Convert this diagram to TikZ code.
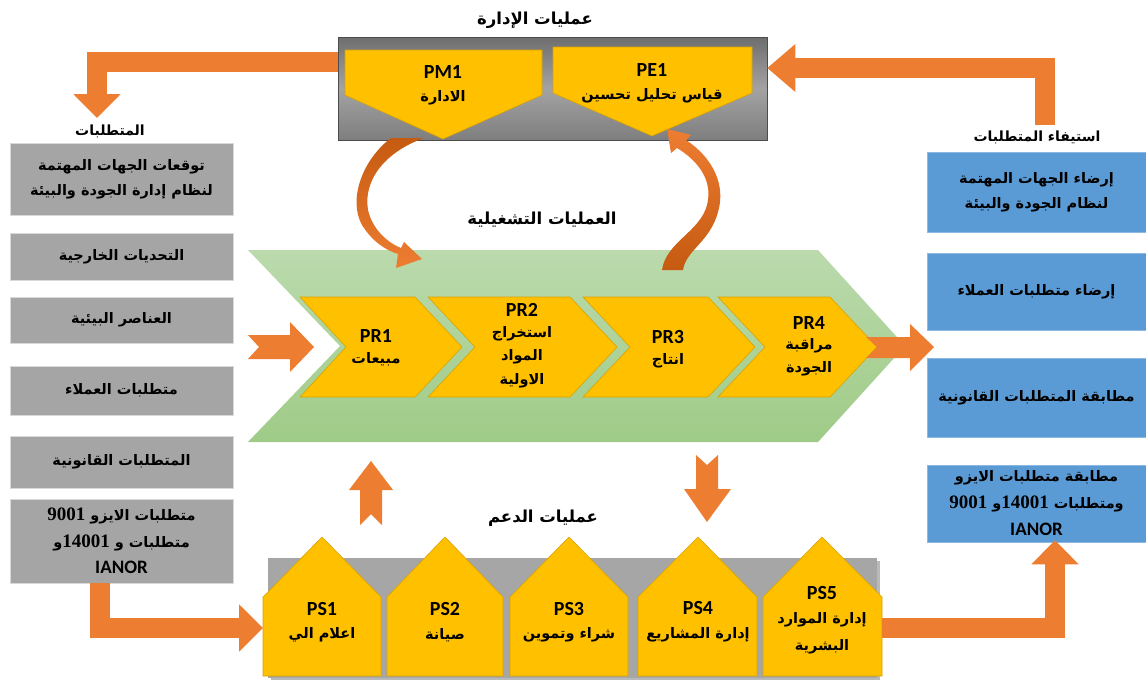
\documentclass[tikz,border=0pt]{standalone}
\usepackage{fontspec}
\setmainfont{Carlito}
\newfontfamily\arfont[Script=Arabic]{DejaVu Sans}
\newfontfamily\numfont{Liberation Serif}
\TeXXeTstate=1
\usetikzlibrary{arrows.meta}
\definecolor{orng}{HTML}{ED7D31}
\definecolor{dorng}{HTML}{C55A11}
\definecolor{ylw}{HTML}{FFC000}
\definecolor{ylwb}{HTML}{D9A300}
\definecolor{gbox}{HTML}{A5A5A5}
\definecolor{bbox}{HTML}{5B9BD5}
\definecolor{grn1}{HTML}{BBDAAD}
\definecolor{grn2}{HTML}{9FCB87}
\definecolor{tbtop}{HTML}{6E6E6E}
\definecolor{tbmid}{HTML}{A3A3A3}
\definecolor{tbbot}{HTML}{7E7E7E}
\definecolor{band}{HTML}{A6A6A6}
\newcommand\AR[1]{\beginR #1\endR}
\newcommand\NUM[1]{{\numfont\bfseries\fontsize{19}{19}\selectfont #1}}
\newcommand\LAT[1]{{\rmfamily\bfseries\fontsize{19}{19}\selectfont #1}}
\begin{document}
\begin{tikzpicture}[x=1pt,y=-1pt,
  artxt/.style={font=\arfont\bfseries\fontsize{14.5}{24}\selectfont, align=center, inner sep=0pt, text=black},
  lattxt/.style={font=\bfseries\fontsize{20}{22}\selectfont, inner sep=0pt, text=black},
  titletxt/.style={font=\arfont\bfseries\fontsize{16.5}{20}\selectfont, inner sep=0pt},
  lbltxt/.style={font=\arfont\bfseries\fontsize{14}{18}\selectfont, inner sep=0pt},
  lbox/.style={fill=gbox, draw=gray!30, line width=0.6pt, minimum width=223pt, inner sep=0pt, align=center,
     font=\arfont\bfseries\fontsize{14.5}{25}\selectfont},
  rbox/.style={fill=bbox, draw=bbox!70!white, line width=0.6pt, minimum width=219pt, inner sep=0pt, align=center,
     font=\arfont\bfseries\fontsize{14.5}{25}\selectfont},
  ylwshape/.style={fill=ylw, draw=ylwb, line width=0.6pt},
  bandarrow/.style={draw=orng, line width=20pt, line join=miter,
     -{Triangle[width=46pt,length=24pt]}},
  blockarrow/.style={fill=orng},
]
\useasboundingbox (0,0) rectangle (1146,680);
\fill[white] (0,0) rectangle (1146,680);

% ---------- management box ----------
\node[minimum width=429pt, minimum height=103pt, inner sep=0pt, draw=gray!60!black, line width=0.5pt,
      top color=tbtop, bottom color=tbbot, middle color=tbmid] (mgmt) at (552.5,88.5) {};
\filldraw[ylwshape] (345,50) -- (542,50) -- (542,95) -- (443,139) -- (345,95) -- cycle;
\filldraw[ylwshape] (553,47) -- (752,47) -- (752,93) -- (652,136) -- (553,93) -- cycle;
\node[lattxt] (pm1) at (443,72) {PM1};
\node[artxt] (pm1t) at (443,98) {\AR{الادارة}};
\node[lattxt] (pe1) at (652,70) {PE1};
\node[artxt] (pe1t) at (652,96) {\AR{قياس تحليل تحسين}};
\node[titletxt] (tmgmt) at (535,20) {\AR{عمليات الإدارة}};

% ---------- labels ----------
\node[lbltxt] (treq) at (110,131) {\AR{المتطلبات}};
\node[lbltxt] (tsat) at (1037,137) {\AR{استيفاء المتطلبات}};
\node[titletxt] (tops) at (542,220) {\AR{العمليات التشغيلية}};
\node[titletxt] (tsup) at (543,518) {\AR{عمليات الدعم}};

% ---------- left boxes ----------
\node[lbox, minimum height=72pt] (l1) at (121.5,179) {\AR{توقعات الجهات المهتمة}\\\AR{لنظام إدارة الجودة والبيئة}};
\node[lbox, minimum height=47pt] (l2) at (121.5,256.5) {\AR{التحديات الخارجية}};
\node[lbox, minimum height=46pt] (l3) at (121.5,320) {\AR{العناصر البيئية}};
\node[lbox, minimum height=49pt] (l4) at (121.5,390.5) {\AR{متطلبات العملاء}};
\node[lbox, minimum height=52pt] (l5) at (121.5,462) {\AR{المتطلبات القانونية}};
\node[lbox, minimum height=84pt, font=\arfont\bfseries\fontsize{14.5}{26.5}\selectfont] (l6) at (121.5,541)
  {\NUM{9001} \AR{متطلبات الايزو}\\\AR{و}\NUM{14001} \AR{متطلبات و}\\\LAT{IANOR}};

% ---------- right boxes ----------
\node[rbox, minimum height=80pt] (r1) at (1036.5,192) {\AR{إرضاء الجهات المهتمة}\\\AR{لنظام الجودة والبيئة}};
\node[rbox, minimum height=77pt] (r2) at (1036.5,291.5) {\AR{إرضاء متطلبات العملاء}};
\node[rbox, minimum height=79pt] (r3) at (1036.5,397.5) {\AR{مطابقة المتطلبات القانونية}};
\node[rbox, minimum height=77pt, font=\arfont\bfseries\fontsize{14.5}{27}\selectfont] (r4) at (1036.5,503.5)
  {\AR{مطابقة متطلبات الايزو}\\\NUM{9001} \AR{و}\NUM{14001} \AR{ومتطلبات}\\\LAT{IANOR}};

% ---------- operational chevron ----------
\shade[top color=grn1, bottom color=grn2] (248,250) -- (818,250) -- (905,346) -- (818,442) -- (248,442) -- (340,346) -- cycle;
\filldraw[ylwshape] (300,297) -- (415,297) -- (462,347) -- (415,397) -- (300,397) -- (346,347) -- cycle;
\filldraw[ylwshape] (428,297) -- (570,297) -- (617,347) -- (570,397) -- (428,397) -- (475,347) -- cycle;
\filldraw[ylwshape] (583,297) -- (708,297) -- (755,347) -- (708,397) -- (583,397) -- (630,347) -- cycle;
\filldraw[ylwshape] (718,297) -- (830,297) -- (877,347) -- (830,397) -- (718,397) -- (765,347) -- cycle;
\node[lattxt] (pr1) at (376,336) {PR1};
\node[artxt] (pr1t) at (376,359) {\AR{مبيعات}};
\node[lattxt] (pr2) at (522,310) {PR2};
\node[artxt, font=\arfont\bfseries\fontsize{14.5}{23.5}\selectfont] (pr2t) at (522,357) {\AR{استخراج}\\\AR{المواد}\\\AR{الاولية}};
\node[lattxt] (pr3) at (668,337) {PR3};
\node[artxt] (pr3t) at (668,361) {\AR{انتاج}};
\node[lattxt] (pr4) at (809,323) {PR4};
\node[artxt, font=\arfont\bfseries\fontsize{14.5}{23}\selectfont] (pr4t) at (809,357) {\AR{مراقبة}\\\AR{الجودة}};

% ---------- curved arrows ----------
\shade[top color=dorng, bottom color=orng]
  (391,138) .. controls (362,160) and (348,200) .. (362,225)
  .. controls (372,241) and (385,250) .. (398,254)
  -- (396,268) -- (422,259) -- (404,242) -- (401,248)
  .. controls (386,242) and (372,228) .. (368,210)
  .. controls (363,180) and (385,152) .. (424,138) -- cycle;
\shade[bottom color=dorng, top color=orng]
  (662,270) .. controls (666,242) and (700,232) .. (707,205)
  .. controls (713,182) and (700,162) .. (677,148)
  -- (671,153) -- (667,129) -- (691,135) -- (686,140)
  .. controls (713,158) and (726,185) .. (718,212)
  .. controls (710,242) and (686,250) .. (683,270) -- cycle;

% ---------- support band ----------
\fill[gray!55] (271,561) rectangle (880,680);
\node[fill=band, minimum width=609pt, minimum height=120pt, inner sep=0pt] (sup) at (572.5,618) {};
\filldraw[ylwshape] (263,676) -- (263,597) -- (322,537) -- (381,597) -- (381,676) -- cycle;
\filldraw[ylwshape] (387,676) -- (387,597) -- (445,537) -- (503,597) -- (503,676) -- cycle;
\filldraw[ylwshape] (510,676) -- (510,597) -- (569,537) -- (628,597) -- (628,676) -- cycle;
\filldraw[ylwshape] (638,676) -- (638,597) -- (698,537) -- (757,597) -- (757,676) -- cycle;
\filldraw[ylwshape] (763,676) -- (763,597) -- (822,537) -- (882,597) -- (882,676) -- cycle;
\coordinate (ps1w) at (263,628);
\coordinate (ps5e) at (882,628);
\node[lattxt] (ps1) at (322,609) {PS1};
\node[artxt] (ps1t) at (322,635) {\AR{اعلام الي}};
\node[lattxt] (ps2) at (445,609) {PS2};
\node[artxt] (ps2t) at (445,635) {\AR{صيانة}};
\node[lattxt] (ps3) at (569,609) {PS3};
\node[artxt] (ps3t) at (569,635) {\AR{شراء وتموين}};
\node[lattxt] (ps4) at (698,608) {PS4};
\node[artxt] (ps4t) at (698,635) {\AR{إدارة المشاريع}};
\node[lattxt] (ps5) at (822,593) {PS5};
\node[artxt, font=\arfont\bfseries\fontsize{14.5}{27}\selectfont] (ps5t) at (822,633) {\AR{إدارة الموارد}\\\AR{البشرية}};

% ---------- block arrows ----------
\fill[blockarrow] (248,335) -- (290,335) -- (290,322) -- (314,347) -- (290,372) -- (290,359) -- (248,359) -- (259,347) -- cycle;
\fill[blockarrow] (866,337) -- (910,337) -- (910,324) -- (934,347) -- (910,371) -- (910,358) -- (866,358) -- (877,347) -- cycle;
\fill[blockarrow] (371,461) -- (393,490) -- (382,490) -- (382,525) -- (371,514) -- (360,525) -- (360,490) -- (349,490) -- cycle;
\fill[blockarrow] (707,522) -- (731,489) -- (718,489) -- (718,455) -- (707,465) -- (696,455) -- (696,489) -- (684,489) -- cycle;

% ---------- band connectors ----------
\coordinate (a1c) at (97,62);
\coordinate (a1e) at (97,118);
\draw[bandarrow] (mgmt.west |- a1c) -- (a1c) -- (a1e);
\coordinate (a2s) at (1045,125);
\coordinate (a2c) at (1045,68);
\draw[bandarrow, -{Triangle[width=46pt,length=28pt]}] (a2s) -- (a2c) -- (mgmt.east |- a2c);
\coordinate (a3c) at (100,628);
\draw[bandarrow] (l6.south -| a3c) -- (a3c) -- (ps1w);
\coordinate (a4c) at (1055,628);
\draw[bandarrow] (ps5e) -- (a4c) -- ([yshift=2pt]r4.south -| a4c);
\end{tikzpicture}
\end{document}
